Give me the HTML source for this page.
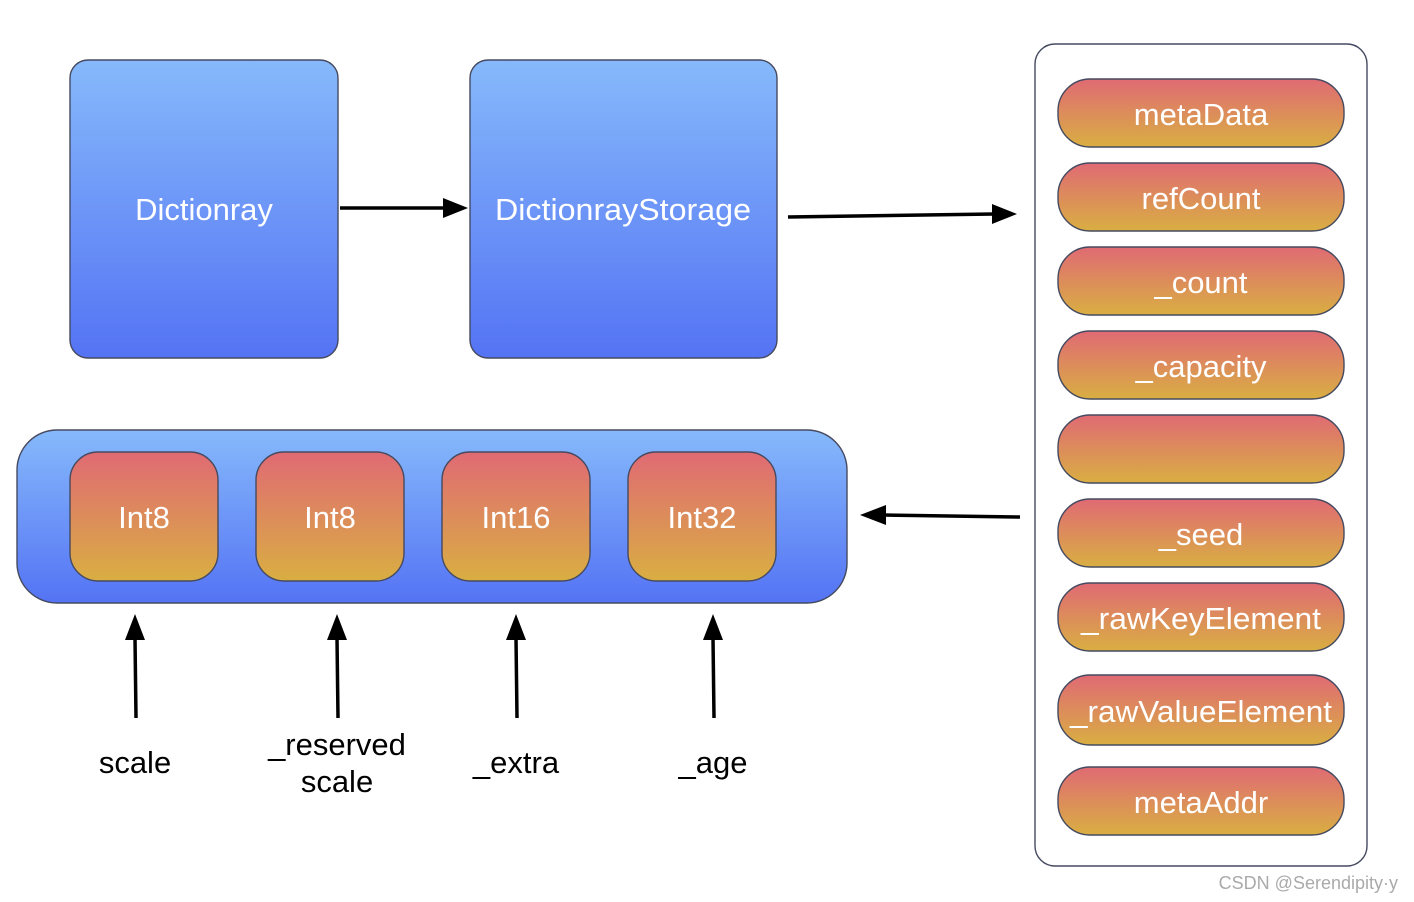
<!DOCTYPE html>
<html><head><meta charset="utf-8"><style>html,body{margin:0;padding:0;background:#fff}svg{display:block}text{font-family:"Liberation Sans",sans-serif}</style></head><body>
<svg width="1414" height="902" viewBox="0 0 1414 902" xmlns="http://www.w3.org/2000/svg">
<defs>
<linearGradient id="b" x1="0" y1="0" x2="0" y2="1"><stop offset="0" stop-color="#86b9fb"/><stop offset="1" stop-color="#5473f4"/></linearGradient>
<linearGradient id="o" x1="0" y1="0" x2="0" y2="1"><stop offset="0" stop-color="#e06a74"/><stop offset="1" stop-color="#d9ae42"/></linearGradient>
</defs>
<g stroke="#454a60" stroke-width="1.4">
<rect x="70" y="60" width="268" height="298" rx="18" fill="url(#b)"/>
<rect x="470" y="60" width="307" height="298" rx="18" fill="url(#b)"/>
<rect x="17" y="430" width="830" height="173" rx="40" fill="url(#b)"/>
<rect x="70" y="452" width="148" height="129" rx="28" fill="url(#o)"/>
<rect x="256" y="452" width="148" height="129" rx="28" fill="url(#o)"/>
<rect x="442" y="452" width="148" height="129" rx="28" fill="url(#o)"/>
<rect x="628" y="452" width="148" height="129" rx="28" fill="url(#o)"/>
<rect x="1035" y="44" width="332" height="822" rx="20" fill="#fff"/>
<rect x="1058" y="79" width="286" height="68" rx="32" fill="url(#o)"/>
<rect x="1058" y="163" width="286" height="68" rx="32" fill="url(#o)"/>
<rect x="1058" y="247" width="286" height="68" rx="32" fill="url(#o)"/>
<rect x="1058" y="331" width="286" height="68" rx="32" fill="url(#o)"/>
<rect x="1058" y="415" width="286" height="68" rx="32" fill="url(#o)"/>
<rect x="1058" y="499" width="286" height="68" rx="32" fill="url(#o)"/>
<rect x="1058" y="583" width="286" height="68" rx="32" fill="url(#o)"/>
<rect x="1058" y="675" width="286" height="70" rx="32" fill="url(#o)"/>
<rect x="1058" y="767" width="286" height="68" rx="32" fill="url(#o)"/>
</g>
<g stroke="#000" stroke-width="3.5" fill="none">
<line x1="340" y1="208" x2="445" y2="208"/>
<line x1="788" y1="217" x2="994" y2="214"/>
<line x1="1020" y1="517" x2="884" y2="515"/>
<line x1="136" y1="718" x2="135" y2="638"/>
<line x1="338" y1="718" x2="337" y2="638"/>
<line x1="517" y1="718" x2="516" y2="638"/>
<line x1="714" y1="718" x2="713" y2="638"/>
</g>
<g fill="#000">
<path d="M468,208 L443,198 L443,218z"/>
<path d="M1017,214 L992,204 L992,224z"/>
<path d="M860,515 L886,505 L886,525z"/>
<path d="M135,614 L125,640 L145,640z"/>
<path d="M337,614 L327,640 L347,640z"/>
<path d="M516,614 L506,640 L526,640z"/>
<path d="M713,614 L703,640 L723,640z"/>
</g>
<g fill="#fff" font-size="31" text-anchor="middle">
<text x="204" y="220">Dictionray</text>
<text x="623" y="220" textLength="256" lengthAdjust="spacingAndGlyphs">DictionrayStorage</text>
<text x="144" y="528">Int8</text>
<text x="330" y="528">Int8</text>
<text x="516" y="528">Int16</text>
<text x="702" y="528">Int32</text>
<text x="1201" y="125">metaData</text>
<text x="1201" y="209">refCount</text>
<text x="1201" y="293">_count</text>
<text x="1201" y="377">_capacity</text>
<text x="1201" y="545">_seed</text>
<text x="1201" y="629" textLength="240" lengthAdjust="spacingAndGlyphs">_rawKeyElement</text>
<text x="1201" y="722" textLength="262" lengthAdjust="spacingAndGlyphs">_rawValueElement</text>
<text x="1201" y="813">metaAddr</text>
</g>
<g fill="#000" font-size="31" text-anchor="middle">
<text x="135" y="773">scale</text>
<text x="337" y="755">_reserved</text>
<text x="337" y="792">scale</text>
<text x="516" y="773">_extra</text>
<text x="713" y="773">_age</text>
</g>
<text x="1398" y="889" font-size="18" fill="#aaa" text-anchor="end">CSDN @Serendipity·y</text>
</svg>
</body></html>
